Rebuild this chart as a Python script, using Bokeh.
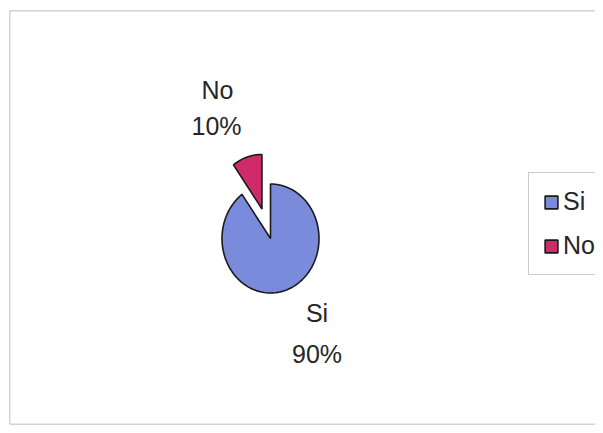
import numpy as np
from bokeh.plotting import figure
from bokeh.models import ColumnDataSource, Range1d, Label, Legend, LegendItem, Span
from bokeh.embed import file_html
from bokeh.resources import INLINE

# ---- data ----
categories = ["Si", "No"]
values = [90, 10]
colors = ["#7b8bdb", "#cf2b6b"]
exploded = [0.0, 0.57]

# ---- layout constants (pixel-like data units) ----
W, H = 595, 425
CX, CY = 261.0, 186.0
RX, RY = 48.5, 54.5
FONT = "Liberation Sans"

p = figure(width=W, height=H, output_backend="svg", toolbar_location=None,
           x_range=Range1d(0, 586), y_range=Range1d(0, 414),
           min_border_left=9, min_border_top=10, min_border_bottom=1,
           min_border_right=0)
p.xaxis.visible = False
p.yaxis.visible = False
p.xgrid.visible = False
p.ygrid.visible = False
p.outline_line_color = None
p.background_fill_color = "white"
p.border_fill_color = "white"

# chart-area frame (top, left, bottom)
for loc, dim in ((414, "width"), (0, "width"), (0, "height")):
    p.add_layout(Span(location=loc, dimension=dim, line_color="#a8a8a8",
                      line_width=1.5))

total = float(sum(values))
fr = np.array(values) / total
ends = np.cumsum(fr) * 2 * np.pi
starts = ends - fr * 2 * np.pi

xs, ys = [], []
for s, e, ex in zip(starts, ends, exploded):
    mid = (s + e) / 2
    ox = RX * ex * np.sin(mid)
    oy = RY * ex * np.cos(mid)
    t = np.linspace(s, e, 120)
    x = np.concatenate([[CX], CX + RX * np.sin(t), [CX]]) + ox
    y = np.concatenate([[CY], CY + RY * np.cos(t), [CY]]) + oy
    xs.append(list(x))
    ys.append(list(y))

src = ColumnDataSource(dict(xs=xs, ys=ys, color=colors, label=categories))
r = p.patches("xs", "ys", source=src, fill_color="color", line_color="#1a1a1a",
              line_width=1.6)

# ---- data labels ----
label_pos = {"No": [(208, 334.5), (207, 299)], "Si": [(307.5, 112), (307.5, 71)]}
for cat, v in zip(categories, values):
    (x1, y1), (x2, y2) = label_pos[cat]
    for (lx, ly), txt in (((x1, y1), cat), ((x2, y2), f"{v}%")):
        p.add_layout(Label(x=lx, y=ly, text=txt, text_font=FONT,
                           text_font_size="25px", text_color="#262626",
                           text_align="center", text_baseline="middle"))

# ---- legend ----
items = [LegendItem(label=c, renderers=[r], index=i) for i, c in enumerate(categories)]
legend = Legend(items=items, location=(519, 149), orientation="vertical",
                label_text_font=FONT, label_text_font_size="25px",
                label_text_color="#262626", glyph_width=16, glyph_height=16,
                label_standoff=4, spacing=15, padding=14, margin=0,
                border_line_color="#9a9a9a", border_line_width=1.3,
                background_fill_alpha=1.0, label_height=26)
p.add_layout(legend)

open("out.html", "w").write(file_html(p, INLINE))
